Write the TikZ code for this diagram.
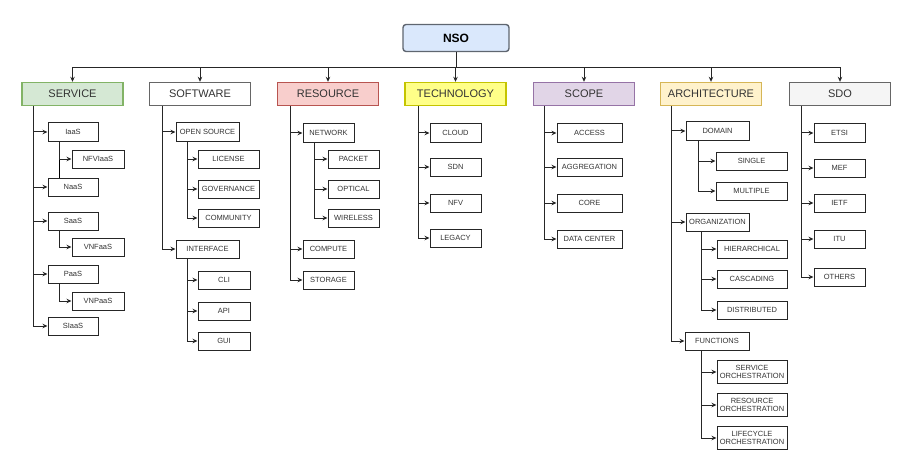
\documentclass[tikz,border=0pt]{standalone}
\usepackage{fontspec}
\setmainfont{Liberation Sans}
\usetikzlibrary{arrows.meta}

\definecolor{nsofill}{HTML}{DAE8FC}
\definecolor{nsoline}{HTML}{5F6670}
\definecolor{svcfill}{HTML}{D5E8D4}
\definecolor{svcline}{HTML}{82B366}
\definecolor{resfill}{HTML}{F8CECC}
\definecolor{resline}{HTML}{B85450}
\definecolor{tecfill}{HTML}{FFFF88}
\definecolor{tecline}{HTML}{C4C400}
\definecolor{scofill}{HTML}{E1D5E7}
\definecolor{scoline}{HTML}{9673A6}
\definecolor{arcfill}{HTML}{FFF2CC}
\definecolor{arcline}{HTML}{D6B656}
\definecolor{sdofill}{HTML}{F5F5F5}
\definecolor{grayline}{HTML}{666666}

\tikzset{
	head/.style 2 args={draw=#2,fill=#1,line width=1.4pt,minimum width=101pt,minimum height=23pt,inner sep=0pt,font=\fontsize{11}{13}\selectfont,text=black!80},
	leaf/.style={draw=black!85,fill=white,line width=1pt,minimum width=#1,minimum height=18pt,inner sep=0pt,font=\fontsize{7.5}{8.5}\selectfont,text=black!80,align=center},
	leaf/.default=51pt,
	arr/.style={-{Stealth[length=5pt,width=4.5pt]},draw=black!85,line width=1pt}
}

\begin{document}
\begin{tikzpicture}[x=1pt,y=-1pt]
	\useasboundingbox (0,0) rectangle (898,460);

	\node[draw=nsoline,fill=nsofill,rounded corners=3pt,line width=1.4pt,minimum width=106pt,minimum height=27pt,font=\bfseries\fontsize{12}{14}\selectfont] (nso) at (456,38) {NSO};

	\node[head={svcfill}{svcline}] (service) at (72.5,94) {SERVICE};
	\node[head={white}{grayline}] (software) at (200,94) {SOFTWARE};
	\node[head={resfill}{resline}] (resource) at (328,94) {RESOURCE};
	\node[head={tecfill}{tecline}] (technology) at (455.5,94) {TECHNOLOGY};
	\node[head={scofill}{scoline}] (scope) at (584,94) {SCOPE};
	\node[head={arcfill}{arcline}] (architecture) at (711,94) {ARCHITECTURE};
	\node[head={sdofill}{grayline}] (sdo) at (840,94) {SDO};

	\foreach \h in {service,software,resource,technology,scope,architecture,sdo}
		\draw[arr] (nso.south) -- (nso.south |- 0,68) -| (\h.north);

	% service
	\foreach \n/\t/\y in {iaas/IaaS/132,naas/NaaS/187,saas/SaaS/221,paas/PaaS/274,siaas/SIaaS/326}
		\node[leaf=50pt] (\n) at (73,\y) {\t};
	\foreach \n/\t/\y in {nfviaas/NFVIaaS/159,vnfaas/VNFaaS/247,vnpaas/VNPaaS/301}
		\node[leaf=52pt] (\n) at (98,\y) {\t};
	\foreach \n in {iaas,naas,saas,paas,siaas}
		\draw[arr] ([xshift=12pt]service.south west) |- (\n.west);
	\draw ([xshift=12pt]iaas.south west) -- ([xshift=12pt]naas.north west);
	\draw[arr] ([xshift=12pt]iaas.south west) |- (nfviaas.west);
	\draw[arr] ([xshift=12pt]saas.south west) |- (vnfaas.west);
	\draw[arr] ([xshift=12pt]paas.south west) |- (vnpaas.west);

	% software
	\node[leaf=63pt] (opensource) at (207.5,132) {OPEN SOURCE};
	\node[leaf=63pt] (interface) at (207.5,249) {INTERFACE};
	\foreach \n/\t/\y in {license/LICENSE/159,governance/GOVERNANCE/189,community/COMMUNITY/218}
		\node[leaf=61pt] (\n) at (228.5,\y) {\t};
	\foreach \n/\t/\y in {cli/CLI/280,api/API/311,gui/GUI/341}
		\node[leaf=52pt] (\n) at (224,\y) {\t};
	\foreach \n in {opensource,interface}
		\draw[arr] ([xshift=14pt]software.south west) |- (\n.west);
	\foreach \n in {license,governance,community}
		\draw[arr] ([xshift=12pt]opensource.south west) |- (\n.west);
	\foreach \n in {cli,api,gui}
		\draw[arr] ([xshift=12pt]interface.south west) |- (\n.west);

	% resource
	\foreach \n/\t/\y in {network/NETWORK/133,compute/COMPUTE/249,storage/STORAGE/280}
		\node[leaf] (\n) at (328.5,\y) {\t};
	\foreach \n/\t/\y in {packet/PACKET/159,optical/OPTICAL/189,wireless/WIRELESS/218}
		\node[leaf] (\n) at (353.5,\y) {\t};
	\foreach \n in {network,compute,storage}
		\draw[arr] ([xshift=14pt]resource.south west) |- (\n.west);
	\foreach \n in {packet,optical,wireless}
		\draw[arr] ([xshift=12pt]network.south west) |- (\n.west);

	% technology
	\foreach \n/\t/\y in {cloud/CLOUD/133,sdn/SDN/167,nfv/NFV/203,legacy/LEGACY/238}
		\node[leaf] (\n) at (455.5,\y) {\t};
	\foreach \n in {cloud,sdn,nfv,legacy}
		\draw[arr] ([xshift=14pt]technology.south west) |- (\n.west);

	% scope
	\foreach \n/\t/\y in {access/ACCESS/133,aggregation/AGGREGATION/167,core/CORE/203,datacenter/DATA CENTER/239}
		\node[leaf=65pt] (\n) at (589.5,\y) {\t};
	\foreach \n in {access,aggregation,core,datacenter}
		\draw[arr] ([xshift=12pt]scope.south west) |- (\n.west);

	% architecture
	\node[leaf=63pt] (domain) at (717.5,131) {DOMAIN};
	\node[leaf=63pt] (organization) at (717.5,222) {ORGANIZATION};
	\node[leaf=64pt] (functions) at (717,341) {FUNCTIONS};
	\node[leaf=71pt] (single) at (751.5,161) {SINGLE};
	\node[leaf=71pt] (multiple) at (751.5,191) {MULTIPLE};
	\foreach \n/\t/\y in {hierarchical/HIERARCHICAL/249,cascading/CASCADING/279,distributed/DISTRIBUTED/310}
		\node[leaf=70pt] (\n) at (752,\y) {\t};
	\foreach \n/\t/\y in {svcorch/SERVICE/372,resorch/RESOURCE/405,lcorch/LIFECYCLE/438}
		\node[leaf=70pt,minimum height=23pt] (\n) at (752,\y) {\t\\ORCHESTRATION};
	\foreach \n in {domain,organization,functions}
		\draw[arr] ([xshift=12pt]architecture.south west) |- (\n.west);
	\foreach \n in {single,multiple}
		\draw[arr] ([xshift=13pt]domain.south west) |- (\n.west);
	\foreach \n in {hierarchical,cascading,distributed}
		\draw[arr] ([xshift=16pt]organization.south west) |- (\n.west);
	\foreach \n in {svcorch,resorch,lcorch}
		\draw[arr] ([xshift=17pt]functions.south west) |- (\n.west);

	% sdo
	\foreach \n/\t/\y in {etsi/ETSI/133,mef/MEF/168,ietf/IETF/203,itu/ITU/239,others/OTHERS/277}
		\node[leaf] (\n) at (839.5,\y) {\t};
	\foreach \n in {etsi,mef,ietf,itu,others}
		\draw[arr] ([xshift=13pt]sdo.south west) |- (\n.west);
\end{tikzpicture}
\end{document}
